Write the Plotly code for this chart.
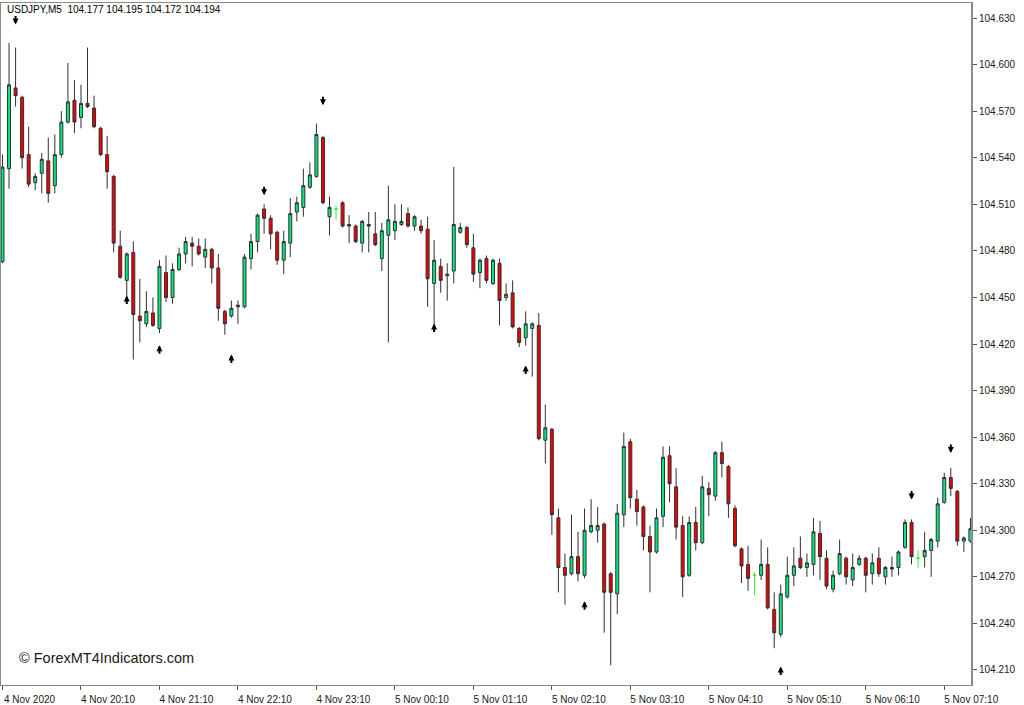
import pandas as pd
import plotly.graph_objects as go

# ---------------- data ----------------
symbol_title = "USDJPY,M5  104.177 104.195 104.172 104.194"
watermark = "© ForexMT4Indicators.com"
start_time = "2020-11-04 19:10"

open_ = [104.473, 104.533, 104.585, 104.579, 104.542, 104.524, 104.530, 104.538, 104.522, 104.542,
         104.563, 104.577, 104.566, 104.575, 104.572, 104.559, 104.542, 104.528, 104.483, 104.461,
         104.479, 104.438, 104.433, 104.440, 104.430, 104.466, 104.450, 104.468, 104.478, 104.485,
         104.483, 104.476, 104.481, 104.469, 104.441, 104.438, 104.445, 104.444, 104.475, 104.486,
         104.507, 104.501, 104.492, 104.474, 104.485, 104.505, 104.508, 104.521, 104.528, 104.553,
         104.502, 104.507, 104.511, 104.497, 104.496, 104.485, 104.497, 104.491, 104.475, 104.490,
         104.493, 104.497, 104.504, 104.496, 104.496, 104.494, 104.459, 104.470, 104.464, 104.467,
         104.492, 104.495, 104.482, 104.466, 104.475, 104.459, 104.472, 104.450, 104.453, 104.430,
         104.424, 104.430, 104.432, 104.358, 104.365, 104.308, 104.276, 104.272, 104.283, 104.271,
         104.299, 104.300, 104.304, 104.272, 104.259, 104.310, 104.357, 104.320, 104.315, 104.296,
         104.286, 104.309, 104.348, 104.328, 104.303, 104.271, 104.305, 104.292, 104.327, 104.322,
         104.350, 104.341, 104.314, 104.288, 104.278, 104.271, 104.271, 104.278, 104.249, 104.233,
         104.257, 104.271, 104.282, 104.276, 104.278, 104.298, 104.282, 104.262, 104.272, 104.282,
         104.268, 104.278, 104.282, 104.272, 104.282, 104.270, 104.276, 104.276, 104.289, 104.305,
         104.282, 104.283, 104.287, 104.293, 104.318, 104.334, 104.325, 104.293, 104.293]
high = [104.542, 104.614, 104.611, 104.580, 104.560, 104.530, 104.543, 104.553, 104.555, 104.570,
        104.601, 104.590, 104.587, 104.611, 104.580, 104.560, 104.554, 104.529, 104.493, 104.479,
        104.486, 104.462, 104.454, 104.450, 104.474, 104.477, 104.472, 104.482, 104.489, 104.489,
        104.488, 104.488, 104.482, 104.478, 104.442, 104.448, 104.448, 104.478, 104.491, 104.504,
        104.510, 104.503, 104.493, 104.493, 104.514, 104.515, 104.533, 104.537, 104.562, 104.554,
        104.515, 104.509, 104.512, 104.503, 104.497, 104.500, 104.505, 104.505, 104.498, 104.522,
        104.510, 104.510, 104.508, 104.503, 104.500, 104.502, 104.487, 104.475, 104.472, 104.534,
        104.498, 104.496, 104.491, 104.475, 104.477, 104.475, 104.475, 104.459, 104.461, 104.431,
        104.441, 104.434, 104.440, 104.381, 104.366, 104.314, 104.285, 104.310, 104.299, 104.314,
        104.320, 104.315, 104.305, 104.273, 104.317, 104.363, 104.359, 104.326, 104.316, 104.303,
        104.314, 104.354, 104.354, 104.340, 104.309, 104.309, 104.315, 104.335, 104.331, 104.351,
        104.357, 104.342, 104.316, 104.289, 104.290, 104.273, 104.294, 104.289, 104.260, 104.265,
        104.283, 104.289, 104.296, 104.285, 104.308, 104.306, 104.287, 104.274, 104.294, 104.283,
        104.285, 104.284, 104.283, 104.285, 104.289, 104.277, 104.283, 104.287, 104.307, 104.307,
        104.287, 104.299, 104.295, 104.321, 104.337, 104.340, 104.326, 104.296, 104.308]
low = [104.472, 104.520, 104.573, 104.533, 104.521, 104.519, 104.517, 104.511, 104.517, 104.540,
       104.562, 104.556, 104.559, 104.572, 104.559, 104.541, 104.520, 104.479, 104.462, 104.450,
       104.410, 104.421, 104.431, 104.431, 104.427, 104.447, 104.446, 104.467, 104.472, 104.470,
       104.477, 104.469, 104.459, 104.435, 104.426, 104.437, 104.433, 104.443, 104.468, 104.479,
       104.491, 104.481, 104.471, 104.465, 104.476, 104.499, 104.502, 104.520, 104.527, 104.510,
       104.490, 104.500, 104.495, 104.485, 104.485, 104.479, 104.479, 104.483, 104.467, 104.421,
       104.487, 104.496, 104.495, 104.493, 104.491, 104.444, 104.429, 104.453, 104.448, 104.459,
       104.491, 104.482, 104.460, 104.456, 104.459, 104.458, 104.432, 104.448, 104.430, 104.418,
       104.419, 104.399, 104.358, 104.343, 104.297, 104.260, 104.252, 104.271, 104.267, 104.269,
       104.298, 104.292, 104.234, 104.213, 104.246, 104.302, 104.314, 104.303, 104.287, 104.260,
       104.285, 104.302, 104.318, 104.294, 104.257, 104.270, 104.287, 104.291, 104.309, 104.319,
       104.334, 104.308, 104.289, 104.266, 104.261, 104.258, 104.268, 104.249, 104.224, 104.231,
       104.256, 104.264, 104.275, 104.270, 104.271, 104.268, 104.262, 104.260, 104.271, 104.265,
       104.264, 104.277, 104.260, 104.265, 104.270, 104.265, 104.270, 104.271, 104.288, 104.278,
       104.276, 104.276, 104.270, 104.289, 104.317, 104.322, 104.290, 104.286, 104.292]
close = [104.534, 104.587, 104.580, 104.540, 104.523, 104.528, 104.539, 104.517, 104.542, 104.563,
         104.576, 104.563, 104.575, 104.573, 104.560, 104.542, 104.531, 104.485, 104.463, 104.478,
         104.439, 104.435, 104.441, 104.432, 104.470, 104.450, 104.468, 104.478, 104.486, 104.483,
         104.478, 104.481, 104.469, 104.443, 104.433, 104.443, 104.444, 104.476, 104.486, 104.503,
         104.501, 104.491, 104.474, 104.486, 104.504, 104.511, 104.522, 104.529, 104.555, 104.511,
         104.508, 104.507, 104.496, 104.496, 104.486, 104.499, 104.496, 104.484, 104.493, 104.500,
         104.499, 104.499, 104.496, 104.502, 104.493, 104.462, 104.474, 104.461, 104.465, 104.497,
         104.495, 104.484, 104.465, 104.474, 104.461, 104.474, 104.448, 104.452, 104.431, 104.421,
         104.433, 104.433, 104.359, 104.366, 104.310, 104.276, 104.271, 104.283, 104.272, 104.300,
         104.303, 104.303, 104.260, 104.260, 104.311, 104.354, 104.321, 104.312, 104.296, 104.286,
         104.308, 104.347, 104.330, 104.302, 104.270, 104.305, 104.292, 104.328, 104.323, 104.350,
         104.343, 104.317, 104.290, 104.277, 104.269, 104.271, 104.278, 104.250, 104.234, 104.259,
         104.271, 104.277, 104.276, 104.279, 104.299, 104.283, 104.264, 104.271, 104.285, 104.270,
         104.276, 104.282, 104.271, 104.279, 104.272, 104.276, 104.275, 104.286, 104.305, 104.283,
         104.282, 104.287, 104.294, 104.317, 104.334, 104.327, 104.293, 104.295, 104.301]

doji_idx = [51, 115, 140]

fractal_up_idx = [19, 24, 35, 66, 80, 89, 119]
fractal_up_price = [104.448, 104.416, 104.410, 104.430, 104.403, 104.251, 104.209]
fractal_dn_idx = [2, 40, 49, 139, 145]
fractal_dn_price = [104.629, 104.519, 104.577, 104.323, 104.353]

x_tick_idx = [0, 12, 24, 36, 48, 60, 72, 84, 96, 108, 120, 132, 144]
x_tick_text = ["4 Nov 2020", "4 Nov 20:10", "4 Nov 21:10", "4 Nov 22:10", "4 Nov 23:10",
               "5 Nov 00:10", "5 Nov 01:10", "5 Nov 02:10", "5 Nov 03:10", "5 Nov 04:10",
               "5 Nov 05:10", "5 Nov 06:10", "5 Nov 07:10"]
y_tick_vals = [104.210, 104.240, 104.270, 104.300, 104.330, 104.360, 104.390, 104.420,
               104.450, 104.480, 104.510, 104.540, 104.570, 104.600, 104.630]
y_range = [104.2003, 104.6397]

# ---------------- figure ----------------
times = pd.date_range(start_time, periods=len(open_), freq="5min")
step = times[1] - times[0]

normal = [i for i in range(len(open_)) if i not in doji_idx]

GREEN = "#00EC7E"
RED = "#F00000"
EDGE = "#303030"

fig = go.Figure()
fig.add_trace(go.Candlestick(
    x=[times[i] for i in normal],
    open=[open_[i] for i in normal], high=[high[i] for i in normal],
    low=[low[i] for i in normal], close=[close[i] for i in normal],
    increasing=dict(fillcolor=GREEN, line=dict(color=EDGE, width=1)),
    decreasing=dict(fillcolor=RED, line=dict(color=EDGE, width=1)),
    whiskerwidth=0, showlegend=False, hoverinfo="skip",
))
fig.add_trace(go.Candlestick(
    x=[times[i] for i in doji_idx],
    open=[open_[i] for i in doji_idx], high=[high[i] for i in doji_idx],
    low=[low[i] for i in doji_idx], close=[close[i] for i in doji_idx],
    increasing=dict(fillcolor="#33FF33", line=dict(color="#33EE33", width=1)),
    decreasing=dict(fillcolor="#33FF33", line=dict(color="#33EE33", width=1)),
    whiskerwidth=0, showlegend=False, hoverinfo="skip",
))

# fractal arrows drawn as annotation arrows (centred on the stored price)
arrow_style = dict(xref="x", yref="y", text="", showarrow=True, arrowhead=2,
                   arrowsize=0.6, arrowwidth=2, arrowcolor="#000000", ax=0)
arrow_anns = []
for i, p in zip(fractal_up_idx, fractal_up_price):
    arrow_anns.append(dict(x=times[i], y=p, ay=10, yshift=5, **arrow_style))
for i, p in zip(fractal_dn_idx, fractal_dn_price):
    arrow_anns.append(dict(x=times[i], y=p, ay=-10, yshift=-5, **arrow_style))

x_range = [times[0] - step * 0.23, times[-1] + step * 0.09]

axis_font = dict(family="Liberation Sans, Arial, sans-serif", size=10, color="#1a1a1a")

fig.update_layout(
    width=1024, height=705,
    margin=dict(l=1, r=53, t=3, b=20),
    paper_bgcolor="white", plot_bgcolor="white",
    boxgap=0.35,
    xaxis=dict(
        type="date", range=x_range, rangeslider=dict(visible=False),
        showgrid=False, zeroline=False, automargin=False,
        showline=True, linecolor="#8a8a8a", linewidth=1, mirror=True,
        tickmode="array", tickvals=[times[i] for i in x_tick_idx], ticktext=x_tick_text,
        ticks="outside", ticklen=4, tickcolor="#555555", tickwidth=1,
        ticklabelshift=27, ticklabeloverflow="allow", ticklabelstandoff=1,
        tickfont=axis_font, fixedrange=True,
    ),
    yaxis=dict(
        side="right", range=y_range, automargin=False,
        showgrid=False, zeroline=False,
        showline=True, linecolor="#8a8a8a", linewidth=2, mirror=True,
        tickmode="array", tickvals=y_tick_vals, tickformat=".3f",
        ticks="outside", ticklen=4, tickcolor="#555555", tickwidth=1,
        tickfont=axis_font, fixedrange=True,
    ),
    annotations=[
        dict(text=symbol_title, xref="paper", yref="paper", x=0.004, y=1.0, yshift=1,
             xanchor="left", yanchor="top", showarrow=False,
             font=dict(family="Liberation Sans, Arial, sans-serif", size=10, color="#000000")),
        dict(text=watermark, xref="paper", yref="paper", x=0.016, y=0.04,
             xanchor="left", yanchor="middle", showarrow=False,
             font=dict(family="Liberation Sans, Arial, sans-serif", size=14.5, color="#1a1a1a")),
    ] + arrow_anns,
)

fig.write_html("out.html", config={"displayModeBar": False},
               post_script="document.body.style.margin='0px';document.body.style.overflow='hidden';")
